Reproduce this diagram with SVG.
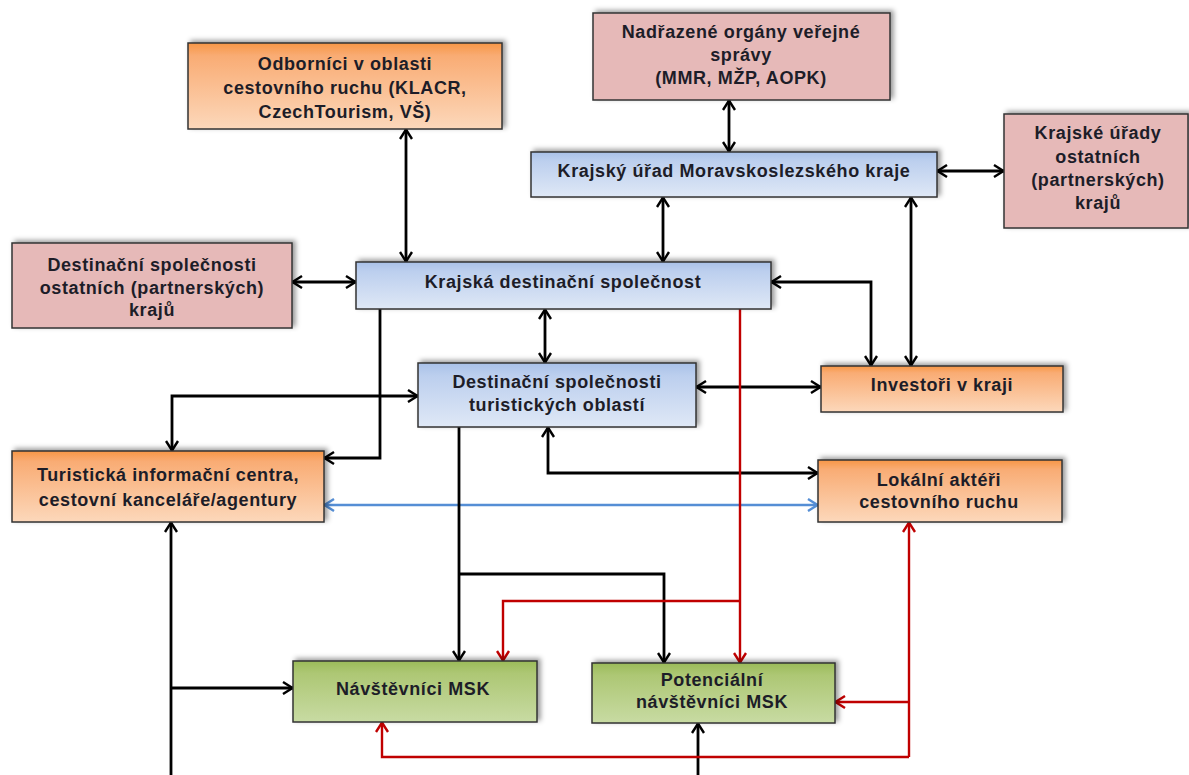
<svg xmlns="http://www.w3.org/2000/svg" width="1189" height="775" viewBox="0 0 1189 775">
<defs>
<linearGradient id="gOrange" x1="0" y1="0" x2="0" y2="1">
<stop offset="0" stop-color="#f79646"/><stop offset="0.15" stop-color="#f9ac74"/><stop offset="1" stop-color="#fcd8bb"/>
</linearGradient>
<linearGradient id="gBlue" x1="0" y1="0" x2="0" y2="1">
<stop offset="0" stop-color="#a9c1e8"/><stop offset="0.2" stop-color="#bccfee"/><stop offset="1" stop-color="#dfe8f6"/>
</linearGradient>
<linearGradient id="gGreen" x1="0" y1="0" x2="0" y2="1">
<stop offset="0" stop-color="#9bbb59"/><stop offset="0.2" stop-color="#adc774"/><stop offset="1" stop-color="#c8dba3"/>
</linearGradient>
<filter id="shadow" x="-10%" y="-30%" width="125%" height="160%">
<feDropShadow dx="3" dy="-2" stdDeviation="2.5" flood-color="#000" flood-opacity="0.4"/>
</filter>
<marker id="aB" viewBox="0 0 12 14" refX="11" refY="7" markerWidth="12" markerHeight="14" markerUnits="userSpaceOnUse" orient="auto-start-reverse">
<path d="M1,1 L10.5,7 L1,13" fill="none" stroke="#000" stroke-width="2.4"/>
</marker>
<marker id="aR" viewBox="0 0 12 14" refX="11" refY="7" markerWidth="12" markerHeight="14" markerUnits="userSpaceOnUse" orient="auto-start-reverse">
<path d="M1,1 L10.5,7 L1,13" fill="none" stroke="#c00000" stroke-width="2.4"/>
</marker>
<marker id="aL" viewBox="0 0 12 14" refX="11" refY="7" markerWidth="12" markerHeight="14" markerUnits="userSpaceOnUse" orient="auto-start-reverse">
<path d="M1,1 L10.5,7 L1,13" fill="none" stroke="#558ed5" stroke-width="2.4"/>
</marker>
</defs>
<style>
.box{stroke:#333;stroke-width:1.5;filter:url(#shadow)}
.or{fill:url(#gOrange)}
.bl{fill:url(#gBlue)}
.gr{fill:url(#gGreen)}
.pk{fill:#e6b9b8}
text{font-family:"Liberation Sans",Arial,sans-serif;font-size:18px;font-weight:bold;fill:#1d1d28;text-anchor:middle;letter-spacing:0.6px}
.cb{fill:none;stroke:#000;stroke-width:2.8}
.cr{fill:none;stroke:#c00000;stroke-width:2.4}
.cl{fill:none;stroke:#558ed5;stroke-width:2.6}
</style>
<rect width="1189" height="775" fill="#fff"/>

<g id="connectors">
<path class="cb" d="M406,129 V262" marker-start="url(#aB)" marker-end="url(#aB)"/>
<path class="cb" d="M729,100 V152" marker-start="url(#aB)" marker-end="url(#aB)"/>
<path class="cb" d="M937,171 H1004" marker-start="url(#aB)" marker-end="url(#aB)"/>
<path class="cb" d="M663,197 V262" marker-start="url(#aB)" marker-end="url(#aB)"/>
<path class="cb" d="M911,197 V366" marker-start="url(#aB)" marker-end="url(#aB)"/>
<path class="cb" d="M771,282 H871 V366" marker-start="url(#aB)" marker-end="url(#aB)"/>
<path class="cb" d="M292,282 H356" marker-start="url(#aB)" marker-end="url(#aB)"/>
<path class="cb" d="M545,309 V363" marker-start="url(#aB)" marker-end="url(#aB)"/>
<path class="cb" d="M696,387 H821" marker-start="url(#aB)" marker-end="url(#aB)"/>
<path class="cb" d="M380,309 V458 H324" marker-end="url(#aB)"/>
<path class="cb" d="M418,396 H172 V451" marker-start="url(#aB)" marker-end="url(#aB)"/>
<path class="cb" d="M548,427 V473 H818" marker-start="url(#aB)" marker-end="url(#aB)"/>
<path class="cl" d="M324,505 H818" marker-start="url(#aL)" marker-end="url(#aL)"/>
<path class="cb" d="M171,775 V522" marker-end="url(#aB)"/>
<path class="cb" d="M171,688 H293" marker-end="url(#aB)"/>
<path class="cb" d="M459,427 V661" marker-end="url(#aB)"/>
<path class="cb" d="M459,574 H664 V663" marker-end="url(#aB)"/>
<path class="cb" d="M698,775 V723" marker-end="url(#aB)"/>
<path class="cr" d="M740,309 V663" marker-end="url(#aR)"/>
<path class="cr" d="M740,601 H503 V661" marker-end="url(#aR)"/>
<path class="cr" d="M909,757 V522" marker-end="url(#aR)"/>
<path class="cr" d="M909,702 H835" marker-end="url(#aR)"/>
<path class="cr" d="M909,757 H382 V722" marker-end="url(#aR)"/>
</g>

<g id="n-odbornici">
<rect class="box or" x="188" y="43" width="314" height="86"/>
<text x="345" y="70">Odborníci v oblasti</text>
<text x="345" y="94">cestovního ruchu (KLACR,</text>
<text x="345" y="118">CzechTourism, VŠ)</text>
</g>
<g id="n-nadrazene">
<rect class="box pk" x="593" y="13" width="297" height="87"/>
<text x="741" y="38">Nadřazené orgány veřejné</text>
<text x="741" y="61">správy</text>
<text x="741" y="84">(MMR, MŽP, AOPK)</text>
</g>
<g id="n-krajsky-urad">
<rect class="box bl" x="531" y="152" width="406" height="45"/>
<text x="734" y="177">Krajský úřad Moravskoslezského kraje</text>
</g>
<g id="n-krajske-urady">
<rect class="box pk" x="1004" y="114" width="184" height="114"/>
<text x="1098" y="139">Krajské úřady</text>
<text x="1098" y="163">ostatních</text>
<text x="1098" y="186">(partnerských)</text>
<text x="1098" y="209">krajů</text>
</g>
<g id="n-ds-ostatnich">
<rect class="box pk" x="12" y="243" width="280" height="85"/>
<text x="152" y="271">Destinační společnosti</text>
<text x="152" y="294">ostatních (partnerských)</text>
<text x="152" y="316">krajů</text>
</g>
<g id="n-krajska-ds">
<rect class="box bl" x="356" y="262" width="415" height="47"/>
<text x="563" y="288">Krajská destinační společnost</text>
</g>
<g id="n-ds-turist">
<rect class="box bl" x="418" y="363" width="278" height="64"/>
<text x="557" y="388">Destinační společnosti</text>
<text x="557" y="411">turistických oblastí</text>
</g>
<g id="n-investori">
<rect class="box or" x="821" y="366" width="242" height="46"/>
<text x="942" y="391">Investoři v kraji</text>
</g>
<g id="n-lokalni">
<rect class="box or" x="818" y="460" width="244" height="62"/>
<text x="939" y="486">Lokální aktéři</text>
<text x="939" y="508">cestovního ruchu</text>
</g>
<g id="n-tic">
<rect class="box or" x="12" y="451" width="312" height="71"/>
<text x="168" y="481">Turistická informační centra,</text>
<text x="168" y="506">cestovní kanceláře/agentury</text>
</g>
<g id="n-navstevnici">
<rect class="box gr" x="293" y="661" width="244" height="61"/>
<text x="413" y="695">Návštěvníci MSK</text>
</g>
<g id="n-potencialni">
<rect class="box gr" x="592" y="663" width="243" height="60"/>
<text x="712" y="686">Potenciální</text>
<text x="712" y="708">návštěvníci MSK</text>
</g>
</svg>
